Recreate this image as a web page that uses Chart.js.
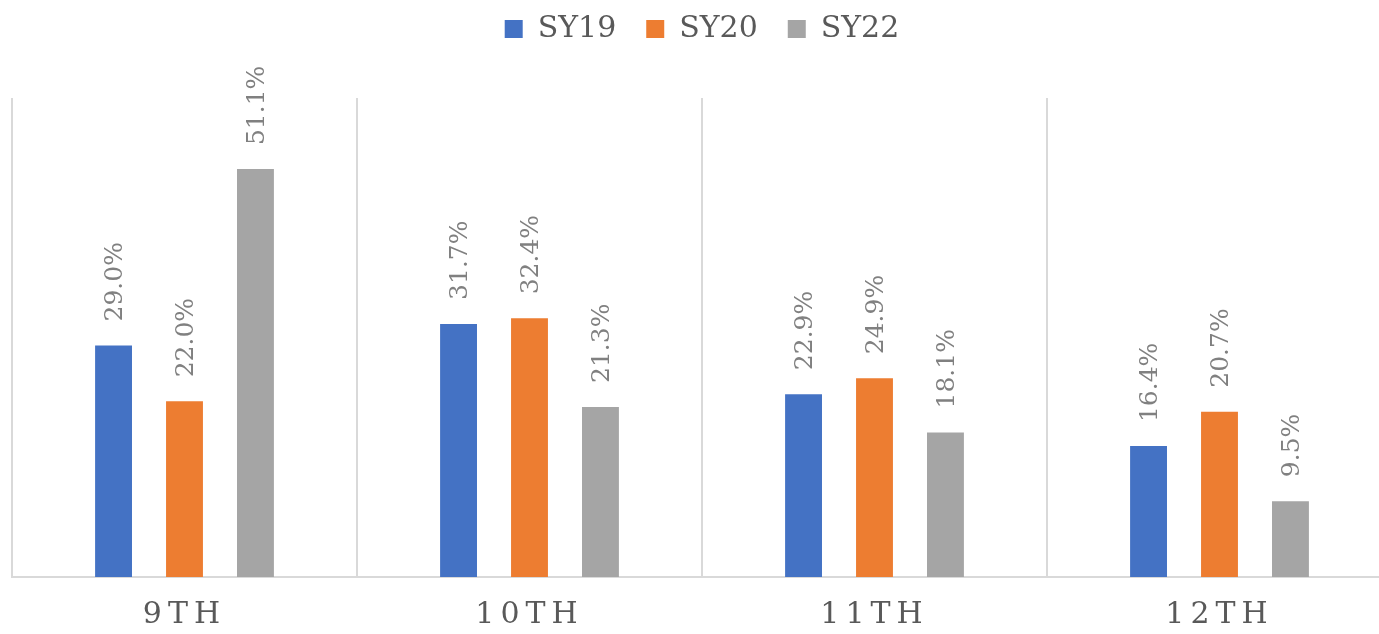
<!DOCTYPE html>
<html>
<head>
<meta charset="utf-8">
<script src="https://cdn.jsdelivr.net/npm/chart.js@4"></script>
<style>
  html, body { margin: 0; padding: 0; background: #fff; overflow: hidden; }
  #wrap { width: 1404px; height: 634px; position: relative; }
</style>
</head>
<body>
<div id="wrap"><canvas id="gradeChart"></canvas></div>
<script>
// data
const grades = ['9TH', '10TH', '11TH', '12TH'];
const sy19 = [29.0, 31.7, 22.9, 16.4];
const sy20 = [22.0, 32.4, 24.9, 20.7];
const sy22 = [51.1, 21.3, 18.1, 9.5];

const serif = "'DejaVu Serif', 'Liberation Serif', serif";

// push the chart area down below the legend
const legendSpace = {
  id: 'legendSpace',
  beforeInit(chart) {
    const origFit = chart.legend.fit;
    chart.legend.fit = function () {
      origFit.bind(chart.legend)();
      this.height = 114;
    };
  }
};

// rotated value labels above each bar, then letter spacing for the x labels
const valueLabels = {
  id: 'valueLabels',
  afterDatasetsDraw(chart) {
    const ctx = chart.ctx;
    ctx.save();
    ctx.letterSpacing = '0px';
    ctx.font = '25px ' + serif;
    ctx.fillStyle = '#808080';
    ctx.textAlign = 'left';
    ctx.textBaseline = 'middle';
    chart.data.datasets.forEach((ds, i) => {
      chart.getDatasetMeta(i).data.forEach((bar, j) => {
        ctx.save();
        ctx.translate(bar.x + 2, bar.y - 24);
        ctx.rotate(-Math.PI / 2);
        ctx.fillText(ds.data[j].toFixed(1) + '%', 0, 0);
        ctx.restore();
      });
    });
    ctx.restore();
    ctx.letterSpacing = '6px';
  },
  afterDraw(chart) {
    chart.ctx.letterSpacing = '0px';
  }
};

const data = {
  labels: grades,
  datasets: [
    { label: 'SY19', data: sy19, backgroundColor: '#4472C4' },
    { label: 'SY20', data: sy20, backgroundColor: '#ED7D31' },
    { label: 'SY22', data: sy22, backgroundColor: '#A5A5A5' }
  ]
};

const config = {
  type: 'bar',
  data,
  options: {
    responsive: true,
    maintainAspectRatio: false,
    animation: false,
    datasets: {
      bar: { categoryPercentage: 0.617, barPercentage: 0.52 }
    },
    layout: { padding: { top: -16, left: 12, right: 12, bottom: -19 } },
    plugins: {
      legend: {
        position: 'top',
        labels: {
          boxWidth: 18,
          boxHeight: 18,
          padding: 30,
          color: '#595959',
          font: { family: serif, size: 30 }
        }
      },
      tooltip: { enabled: false }
    },
    scales: {
      x: {
        grid: { color: '#d9d9d9', lineWidth: 2, drawTicks: false, offset: true },
        border: { color: '#d9d9d9', width: 2 },
        ticks: {
          z: 1,
          padding: 20,
          color: '#595959',
          font: { family: serif, size: 30 }
        }
      },
      y: {
        display: false,
        min: 0,
        max: 60
      }
    }
  },
  plugins: [legendSpace, valueLabels]
};

const myChart = new Chart(document.getElementById('gradeChart'), config);
</script>
</body>
</html>
